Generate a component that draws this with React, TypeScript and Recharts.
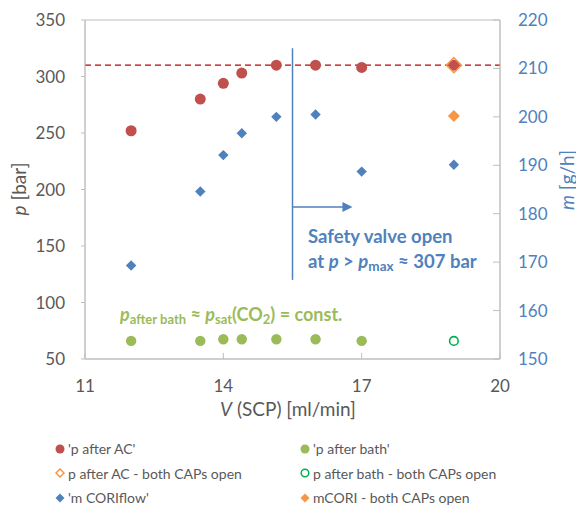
import {
  Customized,
  Legend,
  ReferenceArea,
  ReferenceLine,
  Scatter,
  ScatterChart,
  XAxis,
  YAxis,
} from "recharts";

// measured flows V (SCP) in ml/min
const flow = [12, 13.5, 14, 14.4, 15.15, 16, 17, 19];
const pAfterAC = [252, 280, 294, 303, 310, 310, 308, 310];
const pAfterBath = [66, 66, 67.5, 67.5, 67.5, 67.5, 66];
const mCoriflow = [169.3, 184.6, 192.1, 196.6, 200, 200.5, 188.7, 190.1];

// both CAPs open
const openFlow = [19];
const pAfterACOpen = [310];
const pAfterBathOpen = [66];
const mCoriOpen = [200.2];

const xTicks = [11, 14, 17, 20];
const pTicks = [50, 100, 150, 200, 250, 300, 350];
const mTicks = [150, 160, 170, 180, 190, 200, 210, 220];

const pMax = 310;
const valveFlow = 15.5;
const valveTop = 325;
const valveBottom = 120;
const arrowP = 184.5;
const arrowEnd = 16.8;

const RED = "#C0504D";
const GREEN = "#9BBB59";
const BLUE = "#4F81BD";
const ORANGE = "#F79646";
const GRAY = "#595959";
const AXIS = "#BFBFBF";

const pts = (xs: number[], ys: number[]) => ys.map((y, i) => ({ x: xs[i], y }));

const circle = (fill: string, r: number, stroke = "none", sw = 0) => (props: any) => (
  <circle cx={props.cx} cy={props.cy} r={r} fill={fill} stroke={stroke} strokeWidth={sw} />
);

const diamond = (fill: string, s: number, stroke = "none", sw = 0) => (props: any) => {
  const { cx, cy } = props;
  return (
    <polygon
      points={`${cx},${cy - s} ${cx + s},${cy} ${cx},${cy + s} ${cx - s},${cy}`}
      fill={fill}
      stroke={stroke}
      strokeWidth={sw}
    />
  );
};

const legendItems = [
  { name: "'p after AC'", marker: <circle cx={5} cy={5} r={4.5} fill={RED} /> },
  { name: "'p after bath'", marker: <circle cx={5} cy={5} r={4.5} fill={GREEN} /> },
  {
    name: "p after AC - both CAPs open",
    marker: <polygon points="5,1 9,5 5,9 1,5" fill="#fff" stroke={ORANGE} strokeWidth={1.5} />,
  },
  {
    name: "p after bath - both CAPs open",
    marker: <circle cx={5} cy={5} r={3.8} fill="#fff" stroke="#00B050" strokeWidth={1.5} />,
  },
  { name: "'m CORIflow'", marker: <polygon points="5,0.5 9.5,5 5,9.5 0.5,5" fill={BLUE} /> },
  { name: "mCORI - both CAPs open", marker: <polygon points="5,0.5 9.5,5 5,9.5 0.5,5" fill={ORANGE} /> },
];

const renderLegend = () => (
  <div style={{ position: "relative", width: 576, height: 72, fontSize: 14, color: GRAY }}>
    {legendItems.map((item, i) => (
      <div
        key={item.name}
        style={{
          position: "absolute",
          left: i % 2 === 0 ? 55 : 300,
          top: Math.floor(i / 2) * 24.5,
          display: "flex",
          alignItems: "center",
          whiteSpace: "nowrap",
        }}
      >
        <svg width={10} height={10} style={{ marginRight: 3 }}>
          {item.marker}
        </svg>
        {item.name}
      </div>
    ))}
  </div>
);

const arrowShape = (props: any) => {
  const { x1, y1, x2, y2 } = props;
  return (
    <g>
      <line x1={x1} y1={y1} x2={x2 - 8} y2={y2} stroke={BLUE} strokeWidth={1.5} />
      <polygon points={`${x2},${y2} ${x2 - 10},${y2 - 5} ${x2 - 10},${y2 + 5}`} fill={BLUE} />
    </g>
  );
};

const Annotations = () => (
  <g>
    <text x={18} y={189} transform="rotate(-90 18 189)" textAnchor="middle" dominantBaseline="central" fill={GRAY} fontSize={19}>
      <tspan fontStyle="italic">p</tspan> [bar]
    </text>
    <text x={566} y={180} transform="rotate(-90 566 180)" textAnchor="middle" dominantBaseline="central" fill={BLUE} fontSize={19}>
      <tspan fontStyle="italic">m</tspan> [g/h]
    </text>
    <text x={288} y={416} textAnchor="middle" fill={GRAY} fontSize={19}>
      <tspan fontStyle="italic">V</tspan> (SCP) [ml/min]
    </text>
    <text x={308} y={243} fill={BLUE} fontSize={18.5} fontWeight="bold">
      Safety valve open
    </text>
    <text x={308} y={268} fill={BLUE} fontSize={18.5} fontWeight="bold">
      at <tspan fontStyle="italic">p</tspan> &gt; <tspan fontStyle="italic">p</tspan>
      <tspan fontSize={13.5} dy={3}>max</tspan>
      <tspan dy={-3}> ≈ 307 bar</tspan>
    </text>
    <text x={120} y={321} fill={GREEN} fontSize={18} fontWeight="bold">
      <tspan fontStyle="italic">p</tspan>
      <tspan fontSize={13} dy={3}>after bath</tspan>
      <tspan dy={-3}> ≈ </tspan>
      <tspan fontStyle="italic">p</tspan>
      <tspan fontSize={13} dy={3}>sat</tspan>
      <tspan dy={-3}>(CO</tspan>
      <tspan fontSize={13} dy={3}>2</tspan>
      <tspan dy={-3}>) = const.</tspan>
    </text>
  </g>
);

export default function App() {
  return (
    <div style={{ position: "absolute", left: 0, top: 0, fontFamily: "Lato, sans-serif", background: "#fff" }}>
      <ScatterChart width={576} height={508} margin={{ top: 20, right: 0, bottom: 0, left: 0 }}>
        <XAxis
          type="number"
          dataKey="x"
          domain={[11, 20]}
          ticks={xTicks}
          height={149}
          stroke={AXIS}
          tickSize={-6}
          tickMargin={27}
          tick={{ fill: GRAY, fontSize: 17 }}
        />
        <YAxis
          yAxisId="p"
          type="number"
          dataKey="y"
          domain={[50, 350]}
          ticks={pTicks}
          width={85}
          stroke={AXIS}
          tickSize={4}
          tickMargin={16}
          tick={{ fill: GRAY, fontSize: 17 }}
        />
        <YAxis
          yAxisId="m"
          orientation="right"
          type="number"
          dataKey="y"
          domain={[150, 220]}
          ticks={mTicks}
          width={76}
          stroke={AXIS}
          tickSize={-7}
          tickMargin={25}
          tick={{ fill: BLUE, fontSize: 17 }}
        />
        <ReferenceArea yAxisId="p" x1={11} x2={20} y1={50} y2={350} fill="none" stroke={AXIS} />
        <ReferenceLine yAxisId="p" y={pMax} stroke="#C00000" strokeWidth={1.3} strokeDasharray="6 4" />
        <ReferenceLine
          yAxisId="p"
          segment={[
            { x: valveFlow, y: valveTop },
            { x: valveFlow, y: valveBottom },
          ]}
          stroke={BLUE}
          strokeWidth={1.5}
        />
        <ReferenceLine
          yAxisId="p"
          segment={[
            { x: valveFlow, y: arrowP },
            { x: arrowEnd, y: arrowP },
          ]}
          shape={arrowShape}
        />
        <Scatter name="'p after AC'" yAxisId="p" data={pts(flow, pAfterAC)} shape={circle(RED, 5.5)} isAnimationActive={false} />
        <Scatter name="'p after bath'" yAxisId="p" data={pts(flow, pAfterBath)} shape={circle(GREEN, 5.2)} isAnimationActive={false} />
        <Scatter
          name="p after AC - both CAPs open"
          yAxisId="p"
          data={pts(openFlow, pAfterACOpen)}
          shape={diamond("none", 7.5, ORANGE, 1.6)}
          isAnimationActive={false}
        />
        <Scatter
          name="p after bath - both CAPs open"
          yAxisId="p"
          data={pts(openFlow, pAfterBathOpen)}
          shape={circle("#fff", 4.3, "#00B050", 1.6)}
          isAnimationActive={false}
        />
        <Scatter name="'m CORIflow'" yAxisId="m" data={pts(flow, mCoriflow)} shape={diamond(BLUE, 5.2)} isAnimationActive={false} />
        <Scatter
          name="mCORI - both CAPs open"
          yAxisId="m"
          data={pts(openFlow, mCoriOpen)}
          shape={diamond(ORANGE, 6)}
          isAnimationActive={false}
        />
        <Customized component={Annotations} />
        <Legend
          layout="horizontal"
          align="center"
          verticalAlign="middle"
          wrapperStyle={{ position: "absolute", left: 0, top: 440, width: 576 }}
          content={renderLegend}
        />
      </ScatterChart>
    </div>
  );
}
